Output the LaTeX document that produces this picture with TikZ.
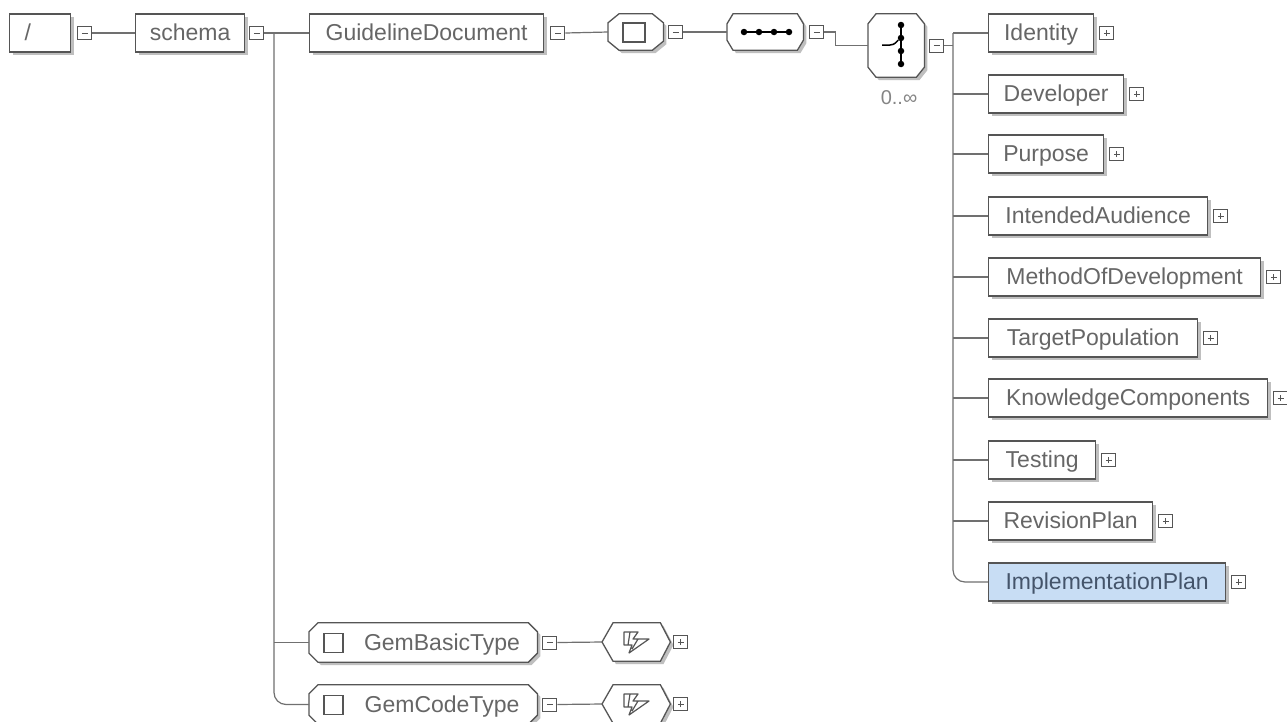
\documentclass[tikz,border=0pt]{standalone}
\usepackage{fontspec}
\setmainfont{Liberation Sans}
\usetikzlibrary{shadows}
\definecolor{bord}{HTML}{555555}
\definecolor{txt}{HTML}{666666}
\definecolor{connc}{HTML}{707070}
\definecolor{sel}{HTML}{C8DDF4}
\definecolor{seltxt}{HTML}{44546A}
\tikzset{
  shad/.style={drop shadow={shadow xshift=3pt,shadow yshift=-3pt,fill=black!45,opacity=0.55}},
  elem/.style={draw=bord,line width=1.3pt,fill=white,shad,minimum height=38pt,inner xsep=0pt,inner ysep=0pt,
    font=\fontsize{23}{27}\selectfont,text=txt,text height=19pt,text depth=5pt,anchor=west},
  lbl/.style={inner sep=0pt,font=\fontsize{23}{27}\selectfont,text=txt,text height=19pt,text depth=5pt},
  ghost/.style={inner sep=0pt,anchor=west},
  icon/.style={draw=bord,line width=1pt,fill=white,minimum width=14pt,minimum height=13pt,inner sep=0pt,anchor=west},
  minusicon/.style={icon,path picture={\draw[bord,line width=1pt]
     ([xshift=-3pt]path picture bounding box.center) -- ([xshift=3pt]path picture bounding box.center);}},
  plusicon/.style={icon,path picture={\draw[bord,line width=1pt]
     ([xshift=-3pt]path picture bounding box.center) -- ([xshift=3pt]path picture bounding box.center)
     ([yshift=-3pt]path picture bounding box.center) -- ([yshift=3pt]path picture bounding box.center);}},
  conn/.style={draw=connc,line width=1.2pt},
  shapeline/.style={draw=bord,line width=1.3pt,fill=white,shad},
  sqbox/.style={draw=bord,line width=1.6pt,inner sep=0pt},
  dot/.style={fill=black,circle,inner sep=0pt,minimum size=6.5pt}
}
\newcommand\octshape[3]{\path[shapeline] ([xshift=#2pt]#1.north west) -- ([xshift=-#2pt]#1.north east) -- ([yshift=-#3pt]#1.north east) -- ([yshift=#3pt]#1.south east) -- ([xshift=-#2pt]#1.south east) -- ([xshift=#2pt]#1.south west) -- ([yshift=#3pt]#1.south west) -- ([yshift=-#3pt]#1.north west) -- cycle;}
\newcommand\hexshape[1]{\path[shapeline] (#1.west) -- ([xshift=11pt]#1.north west) -- ([xshift=-10pt]#1.north east) -- (#1.east) -- ([xshift=-10pt]#1.south east) -- ([xshift=11pt]#1.south west) -- cycle;}
\newcommand\restrsym[2]{\draw[bord,line width=1.2pt,line join=round] (#1-13,#2-10) -- (#1+1,#2-10) -- (#1-4,#2-3) -- (#1+12,#2-3) -- (#1-8,#2+11) -- (#1-5,#2+3) -- (#1-13,#2+3) -- cycle (#1-7,#2-10) -- (#1-9,#2+3) (#1+1,#2-3) -- (#1-5,#2+7);}
\begin{document}
\begin{tikzpicture}[x=1pt,y=-1pt]
\useasboundingbox[fill=white] (0,0) rectangle (1287,721);
\coordinate (ltrunk) at (274,0);
\coordinate (rtrunk) at (953,0);
% main row
\node[elem,minimum width=61pt] (root) at (9,33) {\makebox[31pt][l]{/}};
\node[minusicon] (rootm) at ([xshift=6pt]root.east) {};
\node[elem,minimum width=109pt] (schema) at (135,33) {schema};
\node[minusicon] (schemam) at ([xshift=4pt]schema.east) {};
\node[elem,minimum width=234pt] (guide) at (309,33) {GuidelineDocument};
\node[minusicon] (guidem) at ([xshift=6pt]guide.east) {};
% complex type
\node[ghost,minimum width=55pt,minimum height=36pt] (ctype) at (608,32) {};
\octshape{ctype}{11}{9}
\node[sqbox,minimum width=22pt,minimum height=19pt] (ctypesq) at (634,32.5) {};
\node[minusicon] (ctypem) at ([xshift=5pt]ctype.east) {};
% sequence
\node[ghost,minimum width=76pt,minimum height=36pt] (seq) at (727,32) {};
\octshape{seq}{6}{10}
\node[dot] (sd1) at (744,32) {};
\node[dot] (sd2) at (759,32) {};
\node[dot] (sd3) at (774,32) {};
\node[dot] (sd4) at (789,32) {};
\draw[black,line width=1.6pt] (sd1) -- (sd2) -- (sd3) -- (sd4);
\node[minusicon] (seqm) at ([xshift=6pt]seq.east) {};
% choice
\node[ghost,minimum width=56pt,minimum height=63pt] (choice) at (868,45.5) {};
\octshape{choice}{8}{10}
\node[dot] (cd1) at (901,25) {};
\node[dot] (cd2) at (901,38) {};
\node[dot] (cd3) at (901,51) {};
\node[dot] (cd4) at (901,64) {};
\draw[black,line width=1.6pt] (cd1) -- (cd2) -- (cd3) -- (cd4);
\draw[black,line width=1.5pt] (882,45) -- (890,45) .. controls (895,45) and (897,41) .. (cd2);
\node[minusicon] (choicem) at ([xshift=5pt]choice.east) {};
\node[inner sep=0pt,font=\fontsize{20}{24}\selectfont,text=txt!80] (card) at (899,98) {0..∞};
% right column
\node[elem,minimum width=105pt] (identity) at (988,33) {Identity};
\node[elem,minimum width=135pt] (developer) at (988,94) {Developer};
\node[elem,minimum width=115pt] (purpose) at (988,154) {Purpose};
\node[elem,minimum width=219pt] (audience) at (988,216) {IntendedAudience};
\node[elem,minimum width=272pt] (method) at (988,277) {MethodOfDevelopment};
\node[elem,minimum width=209pt] (target) at (988,338) {TargetPopulation};
\node[elem,minimum width=279pt] (knowledge) at (988,398) {KnowledgeComponents};
\node[elem,minimum width=107pt] (testing) at (988,460) {Testing};
\node[elem,minimum width=164pt] (revision) at (988,521) {RevisionPlan};
\node[elem,minimum width=237pt,fill=sel,text=seltxt] (impl) at (988,582) {ImplementationPlan};
\foreach \n in {identity,developer,purpose,audience,method,target,knowledge,testing,revision,impl}{
  \node[plusicon] (\n p) at ([xshift=5pt]\n.east) {};
}
% bottom types
\node[ghost,minimum width=228pt,minimum height=39pt] (gbt) at (309,642.5) {};
\octshape{gbt}{9}{9}
\node[sqbox,line width=1.3pt,minimum width=19pt,minimum height=19pt] (gbtsq) at (333.5,643) {};
\node[lbl] (gbtt) at (442,643) {GemBasicType};
\node[minusicon] (gbtm) at ([xshift=5pt]gbt.east) {};
\node[ghost,minimum width=68pt,minimum height=38pt] (gbtr) at (602,642) {};
\hexshape{gbtr}
\restrsym{637}{642}
\node[plusicon] (gbtrp) at ([xshift=3pt]gbtr.east) {};
\node[ghost,minimum width=228pt,minimum height=39pt] (gct) at (309,704.5) {};
\octshape{gct}{9}{9}
\node[sqbox,line width=1.3pt,minimum width=19pt,minimum height=19pt] (gctsq) at (333.5,705) {};
\node[lbl] (gctt) at (442,705) {GemCodeType};
\node[minusicon] (gctm) at ([xshift=5pt]gct.east) {};
\node[ghost,minimum width=68pt,minimum height=38pt] (gctr) at (602,704) {};
\hexshape{gctr}
\restrsym{637}{704}
\node[plusicon] (gctrp) at ([xshift=3pt]gctr.east) {};
% connectors
\draw[conn] (rootm.east) -- (schema.west);
\draw[conn] (schemam.east) -- (guide.west);
\draw[conn] (guidem.east) -- (ctype.west);
\draw[conn] (ctypem.east) -- (seq.west);
\draw[conn] (seqm.east) -- ++(11,0) |- (choice.west);
\draw[conn] (choicem.east) -- (choicem.east -| rtrunk);
\draw[conn,rounded corners=12pt] (identity.west -| rtrunk) -- (impl.west -| rtrunk) -- (impl.west);
\foreach \n in {identity,developer,purpose,audience,method,target,knowledge,testing,revision}{
  \draw[conn] (\n.west -| rtrunk) -- (\n.west);
}
\draw[conn,rounded corners=12pt] (schemam.east -| ltrunk) -- (gct.west -| ltrunk) -- (gct.west);
\draw[conn] (gbt.west -| ltrunk) -- (gbt.west);
\draw[conn] (gbtm.east) -- (gbtr.west);
\draw[conn] (gctm.east) -- (gctr.west);
\end{tikzpicture}
\end{document}
